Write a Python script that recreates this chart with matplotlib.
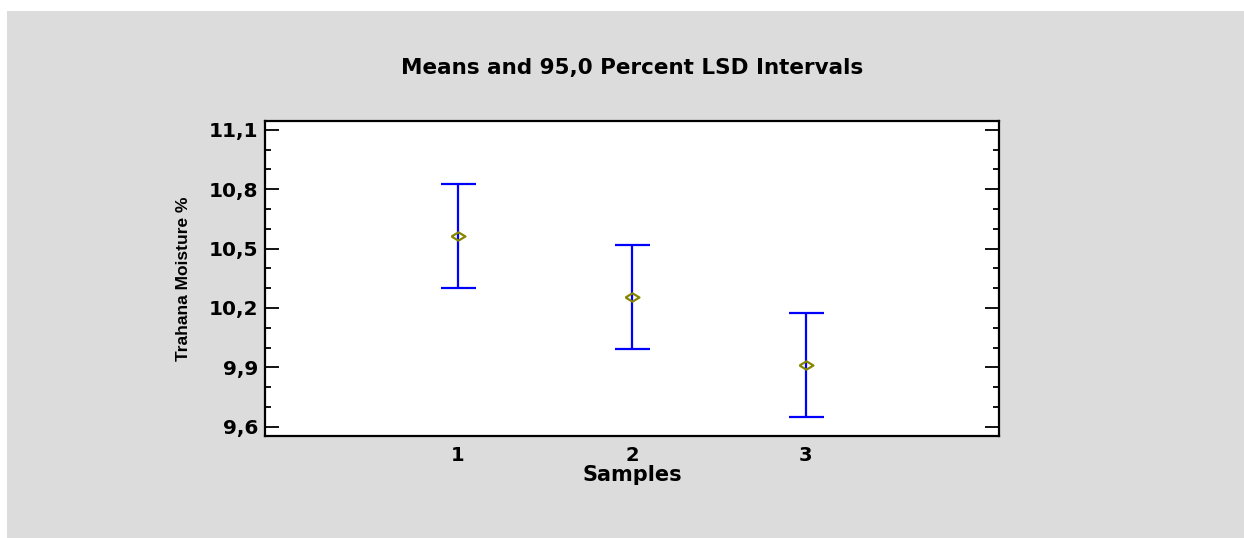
"""Means and 95,0 Percent LSD Intervals - trahana moisture by sample."""
import numpy as np
import matplotlib.pyplot as plt
from matplotlib.patches import Rectangle
from matplotlib.ticker import MultipleLocator, FuncFormatter

samples = [1, 2, 3]
means = [10.566, 10.254, 9.910]
lsd_low = [10.303, 9.991, 9.648]
lsd_high = [10.827, 10.517, 10.173]

plt.rcParams["font.family"] = ["DejaVu Sans"]
plt.rcParams["font.weight"] = "bold"

fig = plt.figure(figsize=(12.44, 5.38), dpi=100, facecolor="white")
# grey panel behind the chart
fig.patches.append(Rectangle((7/1244, 0), 1 - 7/1244, 1 - 11/538,
                             transform=fig.transFigure, facecolor="#dcdcdc",
                             edgecolor="none", zorder=-5))

ax = fig.add_axes([265/1244, 102/538, 734/1244, 315/538])
ax.set_facecolor("white")

m = np.array(means)
yerr = [m - np.array(lsd_low), np.array(lsd_high) - m]
ax.errorbar(samples, means, yerr=yerr, fmt="none", ecolor="#0000ff",
            elinewidth=1.6, capsize=12.6, capthick=1.6, zorder=2)
diamond = [(-1, 0), (0, 0.6), (1, 0), (0, -0.6), (-1, 0)]
ax.plot(samples, means, linestyle="none", marker=diamond, ms=10,
        mfc="none", mec="#868600", mew=1.6, zorder=3)

ax.set_xlim(-0.11, 4.11)
ax.set_ylim(9.553, 11.145)
ax.set_xticks(samples)
ax.yaxis.set_major_locator(MultipleLocator(0.3))
ax.yaxis.set_minor_locator(MultipleLocator(0.1))
ax.yaxis.set_major_formatter(FuncFormatter(lambda v, p: f"{v:.1f}".replace(".", ",")))
ax.tick_params(axis="y", which="major", direction="in", length=10, width=1.3,
               left=True, right=True, labelsize=14.5, pad=5)
ax.tick_params(axis="y", which="minor", direction="in", length=4.5, width=1.3,
               left=True, right=True)
ax.tick_params(axis="x", length=0, labelsize=14, pad=7)
for s in ax.spines.values():
    s.set_linewidth(1.6)

ax.set_xlabel("Samples", fontsize=15, fontweight="bold", labelpad=0)
ax.set_ylabel("Trahana Moisture %", fontsize=12.5, fontweight="bold", labelpad=13,
              family=["Liberation Sans"])
fig.text(632/1244, 1 - 68/538, "Means and 95,0 Percent LSD Intervals",
         ha="center", va="center", fontsize=15.5, fontweight="bold")

fig.savefig("out.png", dpi=100, facecolor=fig.get_facecolor())
